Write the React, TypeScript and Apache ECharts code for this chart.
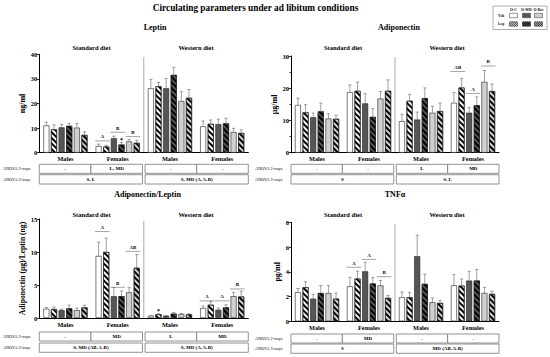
import React, { useEffect, useRef } from "react";
import * as echarts from "echarts";

const FONT = '"Liberation Serif", "Times New Roman", serif';

const mainTitle = "Circulating parameters under ad libitum conditions";
const panelTitles = ["Leptin", "Adiponectin", "Adiponectin/Leptin", "TNFα"];
const dietLabels = ["Standard diet", "Western diet"];
const categories = ["Males", "Females", "Males", "Females"];
const yNames = ["ng/ml", "μg/ml", "Adiponectin (μg)/Leptin (ng)", "pg/ml"];
const groupNames = ["O-C Veh", "O-C Lep", "O-WD Veh", "O-WD Lep", "O-Res Veh", "O-Res Lep"];
const legendCols = ["O-C", "O-WD", "O-Res"];
const legendRows = ["Veh", "Lep"];
const anovaRowLabels = ["ANOVA 2-ways", "ANOVA 3-ways"];

// means: one array per group (6), values for [Males Std, Females Std, Males WD, Females WD]
const leptinMean = [
  [11.1, 2.7, 26.2, 10.7],
  [9.5, 2.5, 27.0, 11.7],
  [10.3, 5.9, 26.2, 11.6],
  [10.9, 3.3, 31.6, 11.9],
  [10.2, 4.6, 21.0, 8.4],
  [7.2, 4.0, 22.3, 8.0],
];
const leptinErr = [
  [1.3, 0.8, 3.6, 2.2],
  [1.8, 0.5, 1.6, 1.6],
  [1.2, 0.8, 4.0, 2.0],
  [1.0, 0.9, 3.1, 2.1],
  [1.7, 0.8, 3.8, 1.5],
  [1.3, 1.0, 3.4, 1.3],
];
const adipoMean = [
  [14.8, 18.8, 9.8, 15.5],
  [12.5, 19.2, 16.1, 20.2],
  [11.0, 15.3, 10.3, 12.4],
  [12.8, 11.1, 16.9, 14.7],
  [10.6, 16.8, 12.4, 22.0],
  [10.5, 19.2, 12.9, 19.1],
];
const adipoErr = [
  [2.1, 2.2, 2.1, 3.2],
  [2.4, 2.7, 2.0, 2.8],
  [1.3, 3.0, 2.3, 1.6],
  [2.6, 2.6, 3.2, 2.6],
  [1.5, 2.2, 2.0, 3.5],
  [1.1, 3.4, 2.5, 2.2],
];
const ratioMean = [
  [1.4, 9.4, 0.35, 1.5],
  [1.35, 10.0, 0.55, 2.0],
  [1.2, 3.3, 0.35, 1.25],
  [1.45, 3.3, 0.65, 1.6],
  [1.2, 3.9, 0.6, 3.3],
  [1.6, 7.6, 0.55, 3.25],
];
const ratioErr = [
  [0.2, 2.1, 0.05, 0.3],
  [0.3, 2.1, 0.1, 0.5],
  [0.15, 1.3, 0.05, 0.25],
  [0.5, 0.8, 0.2, 0.4],
  [0.3, 0.7, 0.1, 0.6],
  [0.35, 2.0, 0.1, 0.8],
];
const tnfMean = [
  [2.35, 2.83, 1.94, 2.91],
  [2.75, 3.45, 1.94, 2.88],
  [1.83, 4.04, 5.26, 3.29],
  [2.28, 3.05, 3.02, 3.29],
  [2.28, 2.9, 1.54, 2.29],
  [1.83, 1.89, 1.48, 2.21],
];
const tnfErr = [
  [0.3, 0.72, 0.43, 0.86],
  [0.45, 0.6, 0.4, 0.54],
  [0.35, 0.72, 1.7, 0.75],
  [0.6, 0.5, 0.8, 0.9],
  [0.6, 0.4, 0.35, 0.45],
  [0.45, 0.2, 0.2, 0.22],
];

// letters of significance: category, first bar, last bar, level, text
const leptinMarks = [
  { cat: 1, from: 0, to: 1, y: 4.8, text: "A", line: true },
  { cat: 1, from: 2, to: 3, y: 8.3, text: "B", line: true },
  { cat: 1, from: 3, to: 3, y: 5.0, text: "*", line: false },
  { cat: 1, from: 4, to: 5, y: 6.6, text: "B", line: true },
];
const adipoMarks = [
  { cat: 3, from: 0, to: 1, y: 25.2, text: "AB", line: true },
  { cat: 3, from: 2, to: 3, y: 18.4, text: "A", line: true },
  { cat: 3, from: 4, to: 5, y: 26.9, text: "B", line: true },
];
const ratioMarks = [
  { cat: 1, from: 0, to: 1, y: 13.1, text: "A", line: true },
  { cat: 1, from: 2, to: 3, y: 4.65, text: "B", line: true },
  { cat: 1, from: 4, to: 5, y: 10.1, text: "AB", line: true },
  { cat: 2, from: 1, to: 1, y: 1.0, text: "*", line: false },
  { cat: 3, from: 0, to: 1, y: 2.6, text: "A", line: true },
  { cat: 3, from: 2, to: 3, y: 2.6, text: "A", line: true },
  { cat: 3, from: 4, to: 5, y: 4.4, text: "B", line: true },
];
const tnfMarks = [
  { cat: 1, from: 0, to: 1, y: 4.37, text: "A", line: true },
  { cat: 1, from: 2, to: 3, y: 5.0, text: "A", line: true },
  { cat: 1, from: 4, to: 5, y: 3.6, text: "B", line: true },
];

const leptinAnova2 = ["-", "L, MD", "-", "-"];
const leptinAnova3 = ["S, L", "S, MD (A-A-B)"];
const adipoAnova2 = ["-", "-", "L", "MD"];
const adipoAnova3 = ["S", "S, L"];
const ratioAnova2 = ["-", "MD", "L", "MD"];
const ratioAnova3 = ["S, MD (AB-A-B)", "S, MD (A-A-B)"];
const tnfAnova2 = ["-", "MD", "-", "-"];
const tnfAnova3 = ["S", "MD (AB-A-B)"];

const yMax = [40, 30, 15, 8];
const yInterval = [10, 10, 5, 2];

// styling
const BW = 6;
const GAP = 0.27;
const STEP = BW * (1 + GAP);
const WHITE = "#ffffff";
const DARK = "#555555";
const LIGHT = "#d0d0d0";
const groupFill = [WHITE, WHITE, DARK, DARK, LIGHT, LIGHT];
const groupHatched = [false, true, false, true, false, true];

const layout = [
  { left: 39.3, top: 54.3, width: 209, height: 98.4, titleX: 155, titleY: 27, dietY: 47, sepTop: 57, row1: 164.3, row2: 174.7, labelX: 3, nameGap: 12 },
  { left: 291, top: 56, width: 208, height: 96.7, titleX: 399, titleY: 27, dietY: 47, sepTop: 57, row1: 164.3, row2: 174.7, labelX: 255, nameGap: 9 },
  { left: 39.3, top: 219, width: 209, height: 99, titleX: 147.5, titleY: 194.7, dietY: 214, sepTop: 221, row1: 332, row2: 343, labelX: 3, nameGap: 12 },
  { left: 291, top: 222.3, width: 208, height: 99, titleX: 395, titleY: 194.7, dietY: 214, sepTop: 224, row1: 334, row2: 344, labelX: 255, nameGap: 9 },
];

const panelData = [
  { mean: leptinMean, err: leptinErr, marks: leptinMarks, a2: leptinAnova2, a3: leptinAnova3 },
  { mean: adipoMean, err: adipoErr, marks: adipoMarks, a2: adipoAnova2, a3: adipoAnova3 },
  { mean: ratioMean, err: ratioErr, marks: ratioMarks, a2: ratioAnova2, a3: ratioAnova3 },
  { mean: tnfMean, err: tnfErr, marks: tnfMarks, a2: tnfAnova2, a3: tnfAnova3 },
];

function hatchDecal() {
  return {
    symbol: "rect",
    symbolSize: 1,
    dashArrayX: [1, 0],
    dashArrayY: [1.2, 1.1],
    rotation: Math.PI / 4,
    color: "#000000",
  };
}

function hatchLines(x: number, y: number, w: number, h: number, period: number) {
  const out: any[] = [];
  for (let u = -h + period / 2; u < w; u += period) {
    const p1 = Math.max(0, -u);
    const p2 = Math.min(h, w - u);
    if (p2 <= p1) continue;
    out.push({
      type: "line",
      shape: { x1: x + p1 + u, y1: y + p1, x2: x + p2 + u, y2: y + p2 },
      style: { stroke: "#000", lineWidth: 0.9 },
      silent: true,
    });
  }
  return out;
}

function txt(text: string, x: number, y: number, size: number, opts: any = {}) {
  return {
    type: "text",
    silent: true,
    style: {
      text,
      x,
      y,
      font: `${opts.weight || "bold"} ${size}px ${FONT}`,
      textAlign: opts.align || "center",
      textVerticalAlign: "middle",
      verticalAlign: "middle",
      fill: opts.color || "#000",
    },
  };
}

function buildOption() {
  const grid: any[] = [];
  const xAxis: any[] = [];
  const yAxis: any[] = [];
  const series: any[] = [];
  const graphic: any[] = [];

  graphic.push(txt(mainTitle, 255.5, 7.5, 9.3));

  layout.forEach((L, p) => {
    const D = panelData[p];
    grid.push({ left: L.left, top: L.top, width: L.width, height: L.height, containLabel: false });
    xAxis.push({
      gridIndex: p,
      type: "category",
      data: categories,
      axisTick: { show: false },
      axisLine: { lineStyle: { color: "#000", width: 1.2 } },
      axisLabel: { fontFamily: FONT, fontWeight: "bold", fontSize: 6.3, color: "#000", margin: 3 },
    });
    yAxis.push({
      gridIndex: p,
      type: "value",
      min: 0,
      max: yMax[p],
      interval: yInterval[p],
      axisLine: { show: true, lineStyle: { color: "#000", width: 1 } },
      axisTick: { show: true, length: 2.5, lineStyle: { color: "#000", width: 0.8 } },
      minorTick: { show: p === 1, splitNumber: 2, length: 1.5, lineStyle: { color: "#000", width: 0.8 } },
      splitLine: { show: false },
      axisLabel: { fontFamily: FONT, fontWeight: "bold", fontSize: 6.5, color: "#000", margin: 2 },
      name: yNames[p],
      nameLocation: "middle",
      nameGap: L.nameGap,
      nameRotate: 90,
      nameTextStyle: { fontFamily: FONT, fontWeight: "bold", fontSize: p === 2 ? 7.6 : 8, color: "#000" },
    });

    D.mean.forEach((vals, g) => {
      series.push({
        type: "bar",
        name: groupNames[g],
        xAxisIndex: p,
        yAxisIndex: p,
        data: vals,
        barWidth: BW,
        barGap: `${GAP * 100}%`,
        itemStyle: {
          color: groupFill[g],
          borderColor: "#222",
          borderWidth: 0.6,
          decal: groupHatched[g] ? hatchDecal() : "none",
        },
        emphasis: { disabled: true },
        z: 2,
      });
    });

    const errData: number[][] = [];
    D.mean.forEach((vals, g) => vals.forEach((v, c) => errData.push([c, g, v, D.err[g][c]])));
    series.push({
      type: "custom",
      xAxisIndex: p,
      yAxisIndex: p,
      data: errData,
      encode: { x: 0, y: 2 },
      itemStyle: { color: "#777" },
      emphasis: { disabled: true },
      z: 3,
      renderItem: (params: any, api: any) => {
        const c = api.value(0);
        const g = api.value(1);
        const m = api.value(2);
        const e = api.value(3);
        const base = api.coord([c, m]);
        const top = api.coord([c, m + e]);
        const x = base[0] + (g - 2.5) * STEP;
        const st = { stroke: "#777", lineWidth: 0.7, fill: "none" };
        return {
          type: "group",
          children: [
            { type: "line", shape: { x1: x, y1: base[1], x2: x, y2: top[1] }, style: st },
            { type: "line", shape: { x1: x - 1.6, y1: top[1], x2: x + 1.6, y2: top[1] }, style: st },
          ],
        };
      },
    });

    series.push({
      type: "custom",
      xAxisIndex: p,
      yAxisIndex: p,
      data: D.marks.map((m) => [m.cat, m.y]),
      encode: { x: 0, y: 1 },
      itemStyle: { color: "#000" },
      emphasis: { disabled: true },
      z: 4,
      renderItem: (params: any, api: any) => {
        const mk = D.marks[params.dataIndex];
        const pt = api.coord([api.value(0), api.value(1)]);
        const x1 = pt[0] + (mk.from - 2.5) * STEP - BW / 2 - 0.5;
        const x2 = pt[0] + (mk.to - 2.5) * STEP + BW / 2 + 0.5;
        const children: any[] = [];
        if (mk.line) {
          children.push({
            type: "line",
            shape: { x1, y1: pt[1], x2, y2: pt[1] },
            style: { stroke: "#666", lineWidth: 0.6 },
          });
        }
        children.push({
          type: "text",
          style: {
            text: mk.text,
            x: (x1 + x2) / 2,
            y: mk.line ? pt[1] - 4.2 : pt[1],
            font: `bold ${mk.line ? 5 : 6}px ${FONT}`,
            textAlign: "center",
            textVerticalAlign: "middle",
            verticalAlign: "middle",
            fill: "#000",
            stroke: "none",
          },
        });
        return { type: "group", children };
      },
    });

    // panel texts
    graphic.push(txt(panelTitles[p], L.titleX, L.titleY, 8));
    graphic.push(txt(dietLabels[0], L.left + L.width / 4, L.dietY, 6.5));
    graphic.push(txt(dietLabels[1], L.left + (L.width * 3) / 4, L.dietY, 6.5));
    const mid = L.left + L.width / 2;
    graphic.push({
      type: "line",
      silent: true,
      shape: { x1: mid, y1: L.sepTop, x2: mid, y2: L.top + L.height },
      style: { stroke: "#aaa", lineWidth: 1 },
    });

    // tables
    const right = L.left + L.width;
    const hg = 1.3;
    const halves = [
      [L.left, mid - hg],
      [mid + hg, right],
    ];
    const cellStyle = { fill: "#fff", stroke: "#777", lineWidth: 0.8 };
    const h1 = 9;
    const h2 = 9.3;
    halves.forEach((hv, hi) => {
      const w = hv[1] - hv[0];
      for (let k = 0; k < 2; k++) {
        const cx = hv[0] + (k * w) / 2;
        graphic.push({ type: "rect", silent: true, shape: { x: cx, y: L.row1, width: w / 2, height: h1 }, style: cellStyle });
        graphic.push(txt(D.a2[hi * 2 + k], cx + w / 4, L.row1 + h1 / 2, 5));
      }
      graphic.push({ type: "rect", silent: true, shape: { x: hv[0], y: L.row2, width: w, height: h2 }, style: cellStyle });
      graphic.push(txt(D.a3[hi], hv[0] + w / 2, L.row2 + h2 / 2, 5));
    });
    graphic.push(txt(anovaRowLabels[0], L.labelX, L.row1 + h1 / 2, 4.2, { align: "left", weight: "normal" }));
    graphic.push(txt(anovaRowLabels[1], L.labelX, L.row2 + h2 / 2, 4.2, { align: "left", weight: "normal" }));
  });

  // legend box
  graphic.push({
    type: "rect",
    silent: true,
    shape: { x: 493, y: 6, width: 54, height: 23.5 },
    style: { fill: "#fff", stroke: "#999", lineWidth: 0.8 },
  });
  const colX = [513.5, 526.5, 538.5];
  const rowY = [15.5, 24];
  legendCols.forEach((c, i) => graphic.push(txt(c, colX[i], 10, 3.8)));
  legendRows.forEach((r, j) => graphic.push(txt(r, 498, rowY[j], 3.8, { align: "left" })));
  for (let j = 0; j < 2; j++) {
    for (let i = 0; i < 3; i++) {
      const g = i * 2 + j;
      const x = colX[i] - 4;
      const y = rowY[j] - 2.2;
      graphic.push({
        type: "rect",
        silent: true,
        shape: { x, y, width: 8, height: 4.4 },
        style: { fill: groupFill[g], stroke: "#333", lineWidth: 0.5 },
      });
      if (groupHatched[g]) {
        hatchLines(x, y, 8, 4.4, 2).forEach((l) => graphic.push(l));
      }
    }
  }

  return {
    animation: false,
    backgroundColor: "#fff",
    grid,
    xAxis,
    yAxis,
    series,
    graphic,
  };
}

export default function App() {
  const ref = useRef<HTMLDivElement>(null);
  useEffect(() => {
    if (!ref.current) return;
    const chart = echarts.init(ref.current, null, { renderer: "svg" });
    chart.setOption(buildOption() as any);
    return () => chart.dispose();
  }, []);
  return (
    <div
      ref={ref}
      style={{ position: "fixed", left: 0, top: 0, width: 550, height: 357, background: "#fff" }}
    />
  );
}
